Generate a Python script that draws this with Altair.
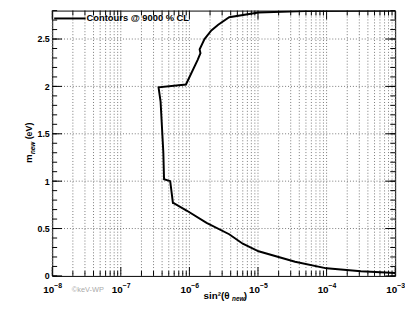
import altair as alt
import pandas as pd

# contour (sin^2 theta_new, m_new [eV]), in drawing order
contour_x = [1.0e-3, 3.16e-4, 1.0e-4, 3.47e-5, 1.02e-5, 6.0e-6, 3.8e-6, 1.78e-6, 9.1e-7,
             6.0e-7, 5.75e-7, 5.25e-7, 4.27e-7, 4.17e-7, 3.8e-7, 3.55e-7, 8.9e-7, 1.02e-6,
             1.32e-6, 1.45e-6, 1.41e-6, 1.66e-6, 2.09e-6, 2.63e-6, 3.8e-6, 1.02e-5, 4.8e-5, 1.0e-3]
contour_y = [0.03, 0.05, 0.08, 0.15, 0.26, 0.34, 0.44, 0.56, 0.69,
             0.765, 0.77, 1.0, 1.02, 1.30, 1.84, 1.99, 2.02, 2.11,
             2.28, 2.35, 2.39, 2.5, 2.59, 2.65, 2.73, 2.78, 2.795, 2.8]

x_decades = [1e-8, 1e-7, 1e-6, 1e-5, 1e-4, 1e-3]
x_label_base = ["10", "10", "10", "10", "10", "10"]
x_label_exp = ["\u22128", "\u22127", "\u22126", "\u22125", "\u22124", "\u22123"]
x_minor = [m * d for d in x_decades[:-1] for m in range(2, 10)]
y_major = [0, 0.5, 1, 1.5, 2, 2.5]
y_minor = [i / 10 for i in range(0, 29)]

legend_text = ["Contours @ 9000 % CL"]
watermark = ["\u00a9keV-WP"]

W, H = 349, 270
FONT = "Liberation Sans"

xscale = alt.Scale(type="log", domain=[1e-8, 1e-3], nice=False)
yscale = alt.Scale(domain=[0, 2.8], nice=False, zero=False)

XAXIS = alt.Axis(values=x_decades, labels=False, title=None, grid=False, ticks=False, domain=False)
YAXIS = alt.Axis(values=y_major, format="~g", title=None, grid=False, ticks=False,
                 domain=False, labelFont=FONT, labelFontSize=9, labelFontWeight="bold",
                 labelPadding=3, labelColor="black", labelFlush=False)

df = pd.DataFrame({"x": contour_x, "y": contour_y, "o": list(range(len(contour_x)))})
xlab = pd.DataFrame({"v": x_decades, "b": x_label_base, "e": x_label_exp})

def X(f):
    return alt.X(f, scale=xscale, axis=XAXIS)

def Y(f):
    return alt.Y(f, scale=yscale, axis=YAXIS)

grid_x = alt.Chart(pd.DataFrame({"v": x_decades + x_minor})).mark_rule(
    color="#777", strokeDash=[1, 2], strokeWidth=1).encode(
    x=X("v:Q"), y=alt.value(0), y2=alt.value(H))
grid_y = alt.Chart(pd.DataFrame({"v": y_major[1:]})).mark_rule(
    color="#777", strokeDash=[1, 2], strokeWidth=1).encode(
    y=Y("v:Q"), x=alt.value(0), x2=alt.value(W))

def xticks(vals, length):
    d = pd.DataFrame({"v": vals})
    b = alt.Chart(d).mark_rule(color="black", strokeWidth=1).encode(
        x=X("v:Q"), y=alt.value(H), y2=alt.value(H - length))
    t = alt.Chart(d).mark_rule(color="black", strokeWidth=1).encode(
        x=X("v:Q"), y=alt.value(0), y2=alt.value(length))
    return [b, t]

def yticks(vals, length):
    d = pd.DataFrame({"v": vals})
    l = alt.Chart(d).mark_rule(color="black", strokeWidth=1).encode(
        y=Y("v:Q"), x=alt.value(0), x2=alt.value(length))
    r = alt.Chart(d).mark_rule(color="black", strokeWidth=1).encode(
        y=Y("v:Q"), x=alt.value(W), x2=alt.value(W - length))
    return [l, r]

xlab_base = alt.Chart(xlab).mark_text(
    font=FONT, fontSize=10, fontWeight="bold", align="right", baseline="alphabetic",
    dx=2, color="black").encode(x=X("v:Q"), y=alt.value(H + 17), text="b:N")
xlab_exp = alt.Chart(xlab).mark_text(
    font=FONT, fontSize=7, fontWeight="bold", align="left", baseline="alphabetic",
    dx=2, color="black").encode(x=X("v:Q"), y=alt.value(H + 12), text="e:N")

line = alt.Chart(df).mark_line(color="black", strokeWidth=2, clip=True).encode(
    x=X("x:Q"), y=Y("y:Q"), order="o:Q")

def txt(s, x, y, size, weight="bold", angle=0, color="black", align="left", baseline="alphabetic", style="normal"):
    return alt.Chart(pd.DataFrame({"t": [s]})).mark_text(
        font=FONT, fontSize=size, fontWeight=weight, angle=angle, color=color,
        align=align, baseline=baseline, fontStyle=style).encode(
        text="t:N", x=alt.value(x), y=alt.value(y))

legend_line = alt.Chart(pd.DataFrame({"a": [0]})).mark_rule(color="black", strokeWidth=2).encode(
    x=alt.value(2), x2=alt.value(34), y=alt.value(8))
legend_lbl = alt.Chart(pd.DataFrame({"t": legend_text})).mark_text(
    font=FONT, fontSize=9.5, fontWeight="bold", align="left", baseline="middle", color="black").encode(
    text="t:N", x=alt.value(35), y=alt.value(8))
wm = alt.Chart(pd.DataFrame({"t": watermark})).mark_text(
    font=FONT, fontSize=7.5, color="#aaaaaa", align="left", baseline="alphabetic").encode(
    text="t:N", x=alt.value(20), y=alt.value(286))

titles = [
    txt("sin\u00b2(\u03b8", 154, 293, 10),
    txt("new", 183, 296, 6.5, style="italic"),
    txt(")", 195, 293, 10),
    txt("m", -21, 155, 10, angle=270),
    txt("new", -18, 146, 6.5, angle=270, style="italic"),
    txt("(eV)", -21, 131, 9, angle=270),
]

layers = [grid_x, grid_y] + xticks(x_decades, 9) + xticks(x_minor, 5) + \
    yticks(y_major, 10) + yticks(y_minor, 5) + \
    [line, legend_line, legend_lbl, wm, xlab_base, xlab_exp] + titles

chart = alt.layer(*layers).properties(
    width=W, height=H,
    padding={"left": 45, "top": 0, "right": 10, "bottom": 30},
    autosize=alt.AutoSizeParams(type="none"),
).configure_view(stroke="black", strokeWidth=1)

chart.save("out.html", embed_options={"renderer": "svg", "actions": False})
